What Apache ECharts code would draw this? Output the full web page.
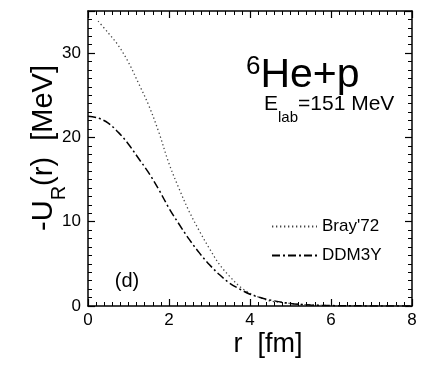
<!DOCTYPE html>
<html>
<head>
<meta charset="utf-8">
<script src="https://cdn.jsdelivr.net/npm/echarts@6/dist/echarts.min.js"></script>
<style>
  html, body { margin: 0; padding: 0; background: #fff; }
  #chart { width: 423px; height: 369px; }
</style>
</head>
<body>
<div id="chart"></div>
<script>
// radius r [fm]
let rBray = [0.25, 0.5, 0.75, 1.0, 1.25, 1.5, 1.75, 2.0, 2.25, 2.5, 2.75, 3.0, 3.25, 3.5, 3.75, 4.0, 4.25, 4.5, 5.0, 5.5, 6.0, 7.0, 8.0];
let uBray = [33.8, 32.4, 30.9, 28.9, 26.4, 23.8, 20.6, 16.9, 13.9, 11.2, 8.9, 6.8, 4.9, 3.5, 2.3, 1.5, 1.0, 0.6, 0.3, 0.12, 0.05, 0.01, 0];

let rDdm = [0, 0.25, 0.5, 0.75, 1.0, 1.25, 1.5, 1.75, 2.0, 2.25, 2.5, 2.75, 3.0, 3.25, 3.5, 3.75, 4.0, 4.25, 4.5, 5.0, 5.5, 6.0, 7.0, 8.0];
let uDdm = [22.5, 22.3, 21.7, 20.6, 19.2, 17.5, 15.8, 13.8, 11.6, 9.7, 7.9, 6.3, 4.9, 3.7, 2.7, 2.0, 1.4, 1.0, 0.7, 0.3, 0.12, 0.05, 0.01, 0];

let xTicks = [0, 2, 4, 6, 8];
let yTicks = [0, 10, 20, 30];

function pairs(xs, ys) {
    return xs.map((x, i) => [x, ys[i]]);
}

let font = 'Liberation Sans, Arial, Helvetica, sans-serif';

function frameAxis(pos, isX, show) {
    return {
        type: 'value',
        position: pos,
        min: 0,
        max: isX ? 8 : 35,
        interval: isX ? 2 : 10,
        axisLine: { show: true, onZero: false, lineStyle: { color: '#000', width: 1.5 } },
        axisTick: { show: true, inside: true, length: 7, lineStyle: { color: '#000', width: 1.2 } },
        minorTick: { show: true, splitNumber: 10, length: 4, lineStyle: { color: '#000', width: 1 } },
        splitLine: { show: false },
        axisLabel: {
            show: show,
            color: '#000',
            fontFamily: font,
            fontSize: 17,
            margin: isX ? 6 : 7,
            formatter: function (v) {
                let list = isX ? xTicks : yTicks;
                return list.indexOf(v) >= 0 ? String(v) : '';
            }
        }
    };
}

let option = {
    animation: false,
    backgroundColor: '#fff',
    grid: { left: 88, right: 11, top: 11, bottom: 63 },
    xAxis: [frameAxis('bottom', true, true), frameAxis('top', true, false)],
    yAxis: [frameAxis('left', false, true), frameAxis('right', false, false)],
    legend: {
        orient: 'vertical',
        left: 266,
        top: 213,
        itemWidth: 45,
        itemHeight: 14,
        itemGap: 12,
        itemStyle: { opacity: 0 },
        textStyle: { color: '#000', fontFamily: font, fontSize: 17 },
        data: ["Bray'72", 'DDM3Y']
    },
    series: [
        {
            name: "Bray'72",
            type: 'line',
            smooth: 0.35,
            symbol: 'none',
            data: pairs(rBray, uBray),
            lineStyle: { color: '#444', width: 1.3, type: [1.3, 2.7] },
            itemStyle: { color: '#444' }
        },
        {
            name: 'DDM3Y',
            type: 'line',
            smooth: 0.35,
            symbol: 'none',
            data: pairs(rDdm, uDdm),
            lineStyle: { color: '#000', width: 1.5, type: [8, 3, 2, 3] },
            itemStyle: { color: '#000' }
        }
    ],
    graphic: [
        {
            type: 'text',
            left: 246,
            top: 54,
            style: {
                text: '{sup|6}{big|He+p}',
                fontFamily: font,
                fill: '#000',
                rich: {
                    sup: { fontFamily: font, fontSize: 26, padding: [0, 0, 18, 0], fill: '#000' },
                    big: { fontFamily: font, fontSize: 41, fill: '#000' }
                }
            }
        },
        {
            type: 'text',
            left: 264,
            top: 94,
            style: {
                text: '{m|E}{s|lab}{m|=151 MeV}',
                fontFamily: font,
                fill: '#000',
                rich: {
                    m: { fontFamily: font, fontSize: 21, fill: '#000' },
                    s: { fontFamily: font, fontSize: 15, padding: [26, 0, 0, 0], fill: '#000' }
                }
            }
        },
        {
            type: 'text',
            x: 127,
            y: 281,
            style: {
                text: '(d)',
                fontFamily: font,
                fontSize: 20,
                fill: '#000',
                align: 'center',
                verticalAlign: 'middle'
            }
        },
        {
            type: 'text',
            x: 268,
            y: 345,
            style: {
                text: 'r  [fm]',
                fontFamily: font,
                fontSize: 27,
                fill: '#000',
                align: 'center',
                verticalAlign: 'middle'
            }
        },
        {
            type: 'text',
            x: 44,
            y: 148,
            rotation: Math.PI / 2,
            style: {
                text: '{m|-U}{s|R}{m|(r)  [MeV]}',
                fontFamily: font,
                fill: '#000',
                align: 'center',
                verticalAlign: 'middle',
                rich: {
                    m: { fontFamily: font, fontSize: 29, fill: '#000' },
                    s: { fontFamily: font, fontSize: 20, padding: [30, 0, 0, 0], fill: '#000' }
                }
            }
        }
    ]
};

let chart = echarts.init(document.getElementById('chart'));
chart.setOption(option);
</script>
</body>
</html>
